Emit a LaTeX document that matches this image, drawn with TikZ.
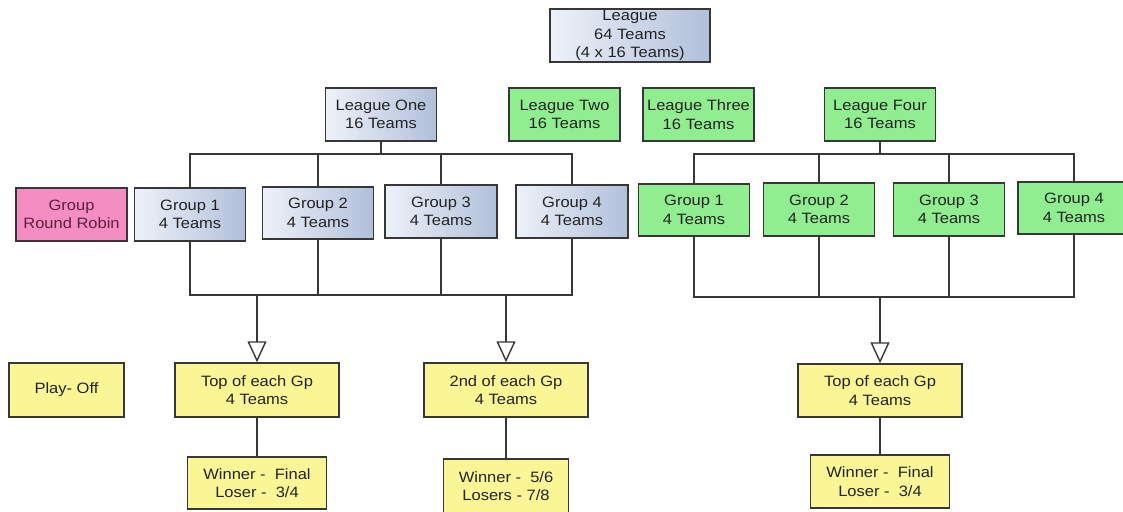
\documentclass[tikz,border=0pt]{standalone}
\usepackage{fontspec}
\setmainfont{Liberation Sans}[FakeStretch=1.1]
\usetikzlibrary{arrows.meta}
\definecolor{bordc}{RGB}{55,55,55}
\definecolor{txtc}{RGB}{35,35,35}
\definecolor{bluelt}{RGB}{238,241,248}
\definecolor{bluedk}{RGB}{176,192,218}
\definecolor{greenbx}{RGB}{144,238,144}
\definecolor{pinkbx}{RGB}{244,142,194}
\definecolor{pinktxt}{RGB}{95,30,60}
\definecolor{yellowbx}{RGB}{250,246,150}
\tikzset{
  box/.style={draw=bordc, line width=1.5pt, inner sep=0pt, align=center,
    text=txtc, font=\fontsize{15}{18.5}\selectfont, minimum height=53pt},
  bluebox/.style={box, left color=bluelt, right color=bluedk},
  greenbox/.style={box, fill=greenbx},
  pinkbox/.style={box, fill=pinkbx, text=pinktxt},
  yellowbox/.style={box, fill=yellowbx},
  wire/.style={draw=bordc, line width=1.5pt},
  openarrow/.style={wire, -{Triangle[open, length=21pt, width=19pt, line width=1.4pt]}}
}
\begin{document}
\begin{tikzpicture}[x=1pt,y=-1pt]
\useasboundingbox[fill=white] (0,0) rectangle (1123,511);
\clip (0,0) rectangle (1123,511);
% top level
\node[bluebox, minimum width=160pt] (league) at (630,35.5) {League\\64 Teams\\(4 x 16 Teams)};
\node[bluebox, minimum width=111pt] (l1) at (381,114.5) {League One\\16 Teams};
\node[greenbox, minimum width=111pt] (l2) at (564.5,114.5) {League Two\\16 Teams};
\node[greenbox, minimum width=111pt] (l3) at (698.5,114.5) {League Three\\16 Teams};
\node[greenbox, minimum width=111pt] (l4) at (880,114.5) {League Four\\16 Teams};
% groups
\node[pinkbox, minimum width=111pt] (rr) at (71.5,214.5) {Group\\Round Robin};
\node[bluebox, minimum width=111pt] (g1L) at (190,214.5) {Group 1\\4 Teams};
\node[bluebox, minimum width=111pt, minimum height=52pt] (g2L) at (318,213) {Group 2\\4 Teams};
\node[bluebox, minimum width=112pt] (g3L) at (441,211.5) {Group 3\\4 Teams};
\node[bluebox, minimum width=112pt] (g4L) at (572,211.5) {Group 4\\4 Teams};
\node[greenbox, minimum width=111pt, minimum height=52pt] (g1R) at (694,210) {Group 1\\4 Teams};
\node[greenbox, minimum width=111pt] (g2R) at (819,209.5) {Group 2\\4 Teams};
\node[greenbox, minimum width=111pt] (g3R) at (949,209.5) {Group 3\\4 Teams};
\node[greenbox, minimum width=112pt, minimum height=52pt] (g4R) at (1074,208) {Group 4\\4 Teams};
% play-offs
\node[yellowbox, minimum width=115pt, minimum height=54pt] (po) at (66.5,390) {Play- Off};
\node[yellowbox, minimum width=164pt, minimum height=54pt] (topL) at (257,390) {Top of each Gp\\4 Teams};
\node[yellowbox, minimum width=164pt, minimum height=54pt] (secL) at (506,390) {2nd of each Gp\\4 Teams};
\node[yellowbox, minimum width=164pt, minimum height=53pt] (topR) at (880,390.5) {Top of each Gp\\4 Teams};
\node[yellowbox, minimum width=139pt, minimum height=52pt] (winL) at (257,483) {Winner -\ \ Final\\Loser -\ \ 3/4};
\node[yellowbox, minimum width=125pt, minimum height=54pt] (win2) at (506,486) {Winner -\ \ 5/6\\Losers - 7/8};
\node[yellowbox, minimum width=139pt, minimum height=53pt] (winR) at (880,481.5) {Winner -\ \ Final\\Loser -\ \ 3/4};
% bus coordinates
\coordinate (topbus) at (0,154);
\coordinate (busL) at (0,295);
\coordinate (busR) at (0,297);
% league one tree
\draw[wire] (l1.south) -- (l1.south |- topbus);
\draw[wire] (g1L.north) -- (g1L.north |- topbus) -- (g4L.north |- topbus) -- (g4L.north);
\draw[wire] (g2L.north) -- (g2L.north |- topbus);
\draw[wire] (g3L.north) -- (g3L.north |- topbus);
\draw[wire] (g1L.south) -- (g1L.south |- busL) -- (g4L.south |- busL) -- (g4L.south);
\draw[wire] (g2L.south) -- (g2L.south |- busL);
\draw[wire] (g3L.south) -- (g3L.south |- busL);
\draw[openarrow] (topL.north |- busL) -- (topL.north);
\draw[openarrow] (secL.north |- busL) -- (secL.north);
% league four tree
\draw[wire] (l4.south) -- (l4.south |- topbus);
\draw[wire] (g1R.north) -- (g1R.north |- topbus) -- (g4R.north |- topbus) -- (g4R.north);
\draw[wire] (g2R.north) -- (g2R.north |- topbus);
\draw[wire] (g3R.north) -- (g3R.north |- topbus);
\draw[wire] (g1R.south) -- (g1R.south |- busR) -- (g4R.south |- busR) -- (g4R.south);
\draw[wire] (g2R.south) -- (g2R.south |- busR);
\draw[wire] (g3R.south) -- (g3R.south |- busR);
\draw[openarrow] (topR.north |- busR) -- (topR.north);
% winners
\draw[wire] (topL.south) -- (winL.north);
\draw[wire] (secL.south) -- (win2.north);
\draw[wire] (topR.south) -- (winR.north);
\end{tikzpicture}
\end{document}
